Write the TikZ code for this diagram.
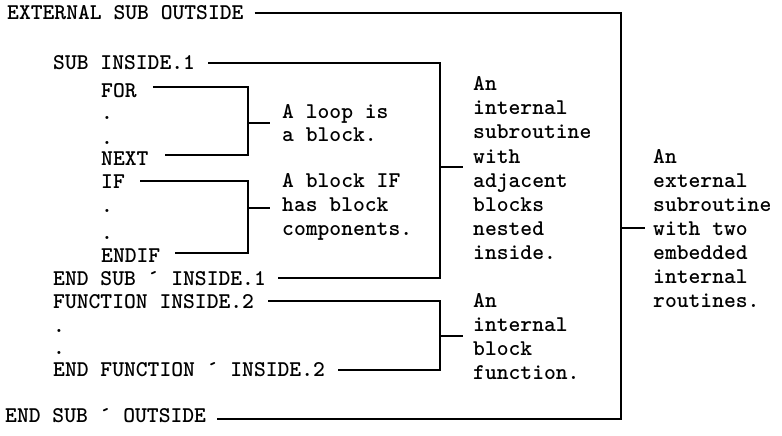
\documentclass[tikz,border=0pt]{standalone}
\usetikzlibrary{calc}
\newcommand\codefont{\fontsize{22.5}{24}\selectfont\ttfamily\bfseries}
\tikzset{
  txt/.style={anchor=base west, inner sep=0pt, font=\codefont, text height=13.8pt, text depth=0pt},
  brk/.style={line width=2.2pt, line join=miter, line cap=butt},
}
\begin{document}
\begin{tikzpicture}[x=1pt,y=-1pt]
\useasboundingbox[fill=white] (0,0) rectangle (782,436);
% code column
\node[txt] (ext)   at (7,20)   {EXTERNAL SUB OUTSIDE};
\node[txt] (sub1)  at (53,70)  {SUB INSIDE.1};
\node[txt] (for)   at (101,97) {FOR};
\node[txt] (da)    at (101,119) {.};
\node[txt] (db)    at (101,144) {.};
\node[txt] (next)  at (101,165) {NEXT};
\node[txt] (if)    at (101,188) {IF};
\node[txt] (dc)    at (101,212) {.};
\node[txt] (dd)    at (101,239) {.};
\node[txt] (endif) at (101,262) {ENDIF};
\node[txt] (esub1) at (53,285) {END SUB ´ INSIDE.1};
\node[txt] (fn)    at (53,308) {FUNCTION INSIDE.2};
\node[txt] (de)    at (53,332) {.};
\node[txt] (df)    at (53,354) {.};
\node[txt] (efn)   at (53,376) {END FUNCTION ´ INSIDE.2};
\node[txt] (esub)  at (5,422)  {END SUB ´ OUTSIDE};
% labels
\foreach \t [count=\i] in {A loop is, a block.}
  \node[txt] (lp\i) at (282,{118+23*(\i-1)}) {\t};
\foreach \t [count=\i] in {A block IF, has block, components.}
  \node[txt] (bi\i) at (282,{187+24*(\i-1)}) {\t};
\foreach \t [count=\i] in {An, internal, subroutine, with, adjacent, blocks, nested, inside.}
  \node[txt] (is\i) at (473,{90.5+24.2*(\i-1)}) {\t};
\foreach \t [count=\i] in {An, internal, block, function.}
  \node[txt] (if\i) at (473,{307+24.3*(\i-1)}) {\t};
\foreach \t [count=\i] in {An, external, subroutine, with two, embedded, internal, routines.}
  \node[txt] (es\i) at (653,{163+24*(\i-1)}) {\t};
% bracket columns
\coordinate (loopX) at (248,0);
\coordinate (subX)  at (440,0);
\coordinate (outX)  at (621,0);
% line starts
\coordinate (extS)   at ([xshift=11pt]ext.east);
\coordinate (sub1S)  at ([xshift=13pt]sub1.east);
\coordinate (forS)   at ([xshift=16pt,yshift=3pt]for.east);
\coordinate (nextS)  at ([xshift=16pt,yshift=3pt]next.east);
\coordinate (ifS)    at ([xshift=15pt]if.east);
\coordinate (endifS) at ([xshift=15pt,yshift=2pt]endif.east);
\coordinate (esub1S) at ([xshift=12pt]esub1.east);
\coordinate (fnS)    at ([xshift=14pt]fn.east);
\coordinate (efnS)   at ([xshift=13pt,yshift=-1pt]efn.east);
\coordinate (esubS)  at ([xshift=11pt,yshift=-4pt]esub.east);
% tick ends
\coordinate (loopT) at (270,123);
\coordinate (ifT)   at (270,208);
\coordinate (subT)  at (463,167);
\coordinate (fnT)   at (463,336);
\coordinate (outT)  at (645,228);
% brackets
\draw[brk] (forS) -- (forS -| loopX) -- (nextS -| loopX) -- (nextS);
\draw[brk] (loopT -| loopX) -- (loopT);
\draw[brk] (ifS) -- (ifS -| loopX) -- (endifS -| loopX) -- (endifS);
\draw[brk] (ifT -| loopX) -- (ifT);
\draw[brk] (sub1S) -- (sub1S -| subX) -- (esub1S -| subX) -- (esub1S);
\draw[brk] (subT -| subX) -- (subT);
\draw[brk] (fnS) -- (fnS -| subX) -- (efnS -| subX) -- (efnS);
\draw[brk] (fnT -| subX) -- (fnT);
\draw[brk] (extS) -- (extS -| outX) -- (esubS -| outX) -- (esubS);
\draw[brk] (outT -| outX) -- (outT);
\end{tikzpicture}
\end{document}
